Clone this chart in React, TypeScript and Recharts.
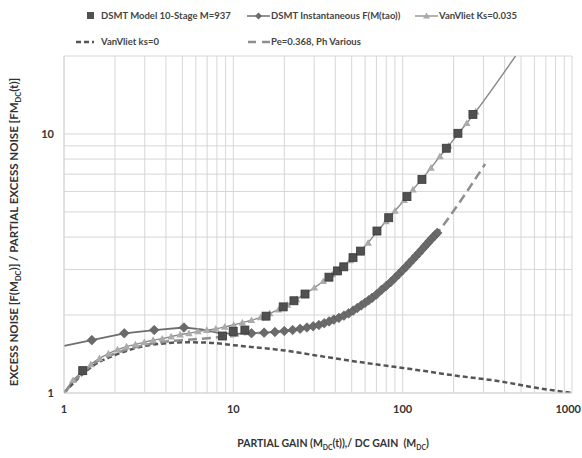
import { ComposedChart, Line, Scatter, XAxis, YAxis, CartesianGrid } from 'recharts'

// DSMT Model 10-Stage M=937 (squares)
const modelX = [1.29, 8.64, 9.98, 11.7, 15.6, 19.7, 22.8, 26.5, 36.7, 41.2, 44.9, 50.9, 56.3, 70.5, 82.7, 106, 130, 181, 212, 260]
const modelY = [1.22, 1.66, 1.73, 1.75, 1.98, 2.15, 2.27, 2.41, 2.8, 2.96, 3.07, 3.33, 3.53, 4.22, 4.75, 5.73, 6.68, 8.81, 10.06, 11.9]

// DSMT Instantaneous F(M(tao)) (diamonds)
const instX = [1, 1.46, 2.27, 3.41, 5.11, 6.5, 8, 10, 12.8, 15.2, 17.6, 20, 22.4, 24.8, 27.2, 29.6, 32, 34.4, 36.8, 39.2, 42, 45, 48, 51, 54, 57, 60, 63, 66, 70, 75, 80, 85, 90, 95, 100, 105, 110, 115, 120, 125, 130, 135, 140, 145, 150, 155, 160]
const instY = [1.52, 1.6, 1.7, 1.75, 1.79, 1.76, 1.71, 1.69, 1.7, 1.71, 1.72, 1.735, 1.75, 1.77, 1.79, 1.81, 1.83, 1.86, 1.89, 1.92, 1.95, 1.99, 2.03, 2.08, 2.13, 2.18, 2.23, 2.28, 2.33, 2.4, 2.5, 2.59, 2.68, 2.78, 2.88, 2.98, 3.08, 3.18, 3.28, 3.38, 3.48, 3.58, 3.68, 3.78, 3.88, 3.97, 4.06, 4.15]

// VanVliet Ks=0.035 (triangles)
const vvX = [1, 1.13, 1.27, 1.44, 1.62, 1.83, 2.07, 2.34, 2.64, 2.98, 3.36, 3.8, 4.29, 4.85, 5.47, 6.18, 6.98, 7.88, 8.9, 10.05, 11.3, 12.8, 14.5, 16.4, 18.5, 20.9, 23.6, 26.7, 30.1, 34, 38.4, 43.4, 49, 55.4, 62.5, 70.6, 79.8, 90, 102, 115, 130, 147, 166, 187, 212, 239, 270, 464]
const vvY = [1, 1.12, 1.2, 1.29, 1.36, 1.42, 1.47, 1.51, 1.54, 1.57, 1.6, 1.62, 1.65, 1.68, 1.7, 1.73, 1.75, 1.77, 1.8, 1.83, 1.87, 1.91, 1.96, 2.03, 2.1, 2.19, 2.3, 2.42, 2.55, 2.7, 2.87, 3.04, 3.25, 3.5, 3.8, 4.2, 4.6, 5.05, 5.55, 6.1, 6.7, 7.4, 8.2, 9.0, 10.0, 11.0, 12.2, 20]

// VanVliet ks=0 (dark dashes)
const ks0X = [1, 1.5, 2, 3, 4, 5, 7, 10, 15, 20, 30, 50, 76, 100, 200, 372, 600, 1000]
const ks0Y = [1, 1.28, 1.4, 1.52, 1.555, 1.57, 1.565, 1.53, 1.49, 1.46, 1.4, 1.33, 1.28, 1.25, 1.17, 1.11, 1.05, 1]

// Pe=0.368, Ph Various (light dashes)
const peX = [1, 1.5, 2, 3, 4, 5, 6.5, 8, 10, 12.8, 15, 20, 30, 40, 50, 60, 70, 80, 100, 120, 140, 160, 200, 250, 307]
const peY = [1, 1.3, 1.42, 1.53, 1.58, 1.6, 1.62, 1.64, 1.66, 1.7, 1.71, 1.735, 1.81, 1.93, 2.06, 2.23, 2.4, 2.59, 2.98, 3.38, 3.78, 4.15, 5.05, 6.25, 7.66]

const xTicks = [1, 2, 3, 4, 5, 6, 7, 8, 9, 10, 20, 30, 40, 50, 60, 70, 80, 90, 100, 200, 300, 400, 500, 600, 700, 800, 900, 1000]
const yTicks = [1, 2, 3, 4, 5, 6, 7, 8, 9, 10, 20]

const zip = (xs: number[], ys: number[]) => xs.map((x, i) => ({ x, y: ys[i] }))

const FONT = 'Lato, "Open Sans", sans-serif'
const GRID = '#d6d6d6'

const Diamond = (props: any) => {
  const { cx, cy, payload, index } = props
  if (cx == null || cy == null || !payload || payload.x < 1.2 || (payload.x > 5.5 && payload.x < 12)) return <g key={index} />
  const r = 4.8
  return <polygon key={index} points={`${cx},${cy - r} ${cx + r},${cy} ${cx},${cy + r} ${cx - r},${cy}`} fill="#6a6a6a" stroke="#5a5a5a" strokeWidth={0.6} />
}

const Triangle = (props: any) => {
  const { cx, cy, payload, index } = props
  if (cx == null || cy == null || !payload || payload.x > 300) return <g key={index} />
  const r = 3.8
  return <polygon key={index} points={`${cx},${cy - r} ${cx + r},${cy + r * 0.75} ${cx - r},${cy + r * 0.75}`} fill="#ababab" />
}

const Square = (props: any) => {
  const { cx, cy } = props
  const s = 8
  return <rect x={cx - s / 2} y={cy - s / 2} width={s} height={s} fill="#505050" stroke="#3a3a3a" strokeWidth={0.8} />
}

const fmt = (v: number) => ([1, 10, 100, 1000].includes(v) ? String(v) : '')

// keeps the 1000 label inside the picture
const XTick = (props: any) => {
  const { x, y, payload } = props
  const label = fmt(payload.value)
  if (!label) return <g />
  const last = payload.value === 1000
  return (
    <text x={last ? 581 : x} y={y} dy="0.71em" textAnchor={last ? 'end' : 'middle'} fontFamily={FONT} fontWeight={700} fontSize={11} fill="#333">
      {label}
    </text>
  )
}

const legendText: React.CSSProperties = {
  position: 'absolute',
  fontFamily: FONT,
  fontWeight: 700,
  fontSize: 9.5,
  color: '#444',
  whiteSpace: 'nowrap',
  lineHeight: '10px',
}

const sub = { fontSize: '0.65em' }

export default function App() {
  return (
    <div style={{ position: 'relative', width: 582, height: 458, background: '#fff', overflow: 'hidden' }}>
      <style>{'body{margin:0}'}</style>
      <ComposedChart width={582} height={458} margin={{ top: 56, right: 10, bottom: 0, left: 0 }}>
        <CartesianGrid stroke={GRID} strokeWidth={1} />
        <XAxis
          dataKey="x"
          type="number"
          scale="log"
          domain={[1, 1000]}
          ticks={xTicks}
          interval={0}
          allowDataOverflow
          height={65}
          tickLine={false}
          axisLine={{ stroke: GRID }}
          tickMargin={6}
          tick={XTick}
        />
        <YAxis
          dataKey="y"
          type="number"
          scale="log"
          domain={[1, 20]}
          ticks={yTicks}
          tickFormatter={fmt}
          interval={0}
          allowDataOverflow
          width={64}
          tickLine={false}
          axisLine={{ stroke: GRID }}
          tickMargin={4}
          tick={{ fontFamily: FONT, fontWeight: 700, fontSize: 11, fill: '#333' }}
        />
        <Line data={zip(ks0X, ks0Y)} dataKey="y" type="monotone" stroke="#555" strokeWidth={2.5} strokeDasharray="5 3" dot={false} isAnimationActive={false} />
        <Line data={zip(instX, instY)} dataKey="y" type="linear" stroke="#6e6e6e" strokeWidth={1.8} dot={Diamond} isAnimationActive={false} />
        <Line data={zip(peX, peY)} dataKey="y" type="monotone" stroke="#8e8e8e" strokeWidth={2.5} strokeDasharray="9 5" dot={false} isAnimationActive={false} />
        <Line data={zip(vvX, vvY)} dataKey="y" type="monotone" stroke="#8a8a8a" strokeWidth={1.4} dot={Triangle} isAnimationActive={false} />
        <Scatter data={zip(modelX, modelY)} dataKey="y" shape={Square} isAnimationActive={false} />
      </ComposedChart>

      {/* legend */}
      <svg style={{ position: 'absolute', left: 0, top: 0 }} width={582} height={50}>
        <rect x={87} y={12} width={7} height={7} fill="#505050" />
        <line x1={247} y1={16} x2={270} y2={16} stroke="#6e6e6e" strokeWidth={1.5} />
        <polygon points="258.5,12.5 262,16 258.5,19.5 255,16" fill="#6a6a6a" />
        <line x1={415} y1={16} x2={438} y2={16} stroke="#9a9a9a" strokeWidth={1.5} />
        <polygon points="426.5,12.5 430,18.5 423,18.5" fill="#ababab" />
        <line x1={76} y1={42} x2={94} y2={42} stroke="#555" strokeWidth={2.5} strokeDasharray="5 3" />
        <line x1={248} y1={42} x2={270} y2={42} stroke="#8e8e8e" strokeWidth={2.5} strokeDasharray="8 6" />
      </svg>
      <div style={{ ...legendText, left: 101, top: 11 }}>DSMT Model 10-Stage M=937</div>
      <div style={{ ...legendText, left: 271, top: 11 }}>DSMT Instantaneous F(M(tao))</div>
      <div style={{ ...legendText, left: 439, top: 11 }}>VanVliet Ks=0.035</div>
      <div style={{ ...legendText, left: 101, top: 37 }}>VanVliet ks=0</div>
      <div style={{ ...legendText, left: 271, top: 37 }}>Pe=0.368, Ph Various</div>

      {/* axis titles */}
      <div
        style={{
          position: 'absolute',
          left: 333,
          top: 437,
          transform: 'translateX(-50%)',
          fontFamily: FONT,
          fontWeight: 700,
          fontSize: 10.5,
          color: '#333',
          whiteSpace: 'nowrap',
        }}
      >
        PARTIAL GAIN (M<sub style={sub}>DC</sub>(t)),/ DC GAIN&nbsp; (M<sub style={sub}>DC</sub>)
      </div>
      <div
        style={{
          position: 'absolute',
          left: 15,
          top: 232,
          transform: 'translate(-50%, -50%) rotate(-90deg)',
          fontFamily: FONT,
          fontWeight: 700,
          fontSize: 11.5,
          color: '#333',
          whiteSpace: 'nowrap',
        }}
      >
        EXCESS NOISE [F(M<sub style={sub}>DC</sub>)] / PARTIAL EXCESS NOISE [FM<sub style={sub}>DC</sub>(t)]
      </div>
    </div>
  )
}
